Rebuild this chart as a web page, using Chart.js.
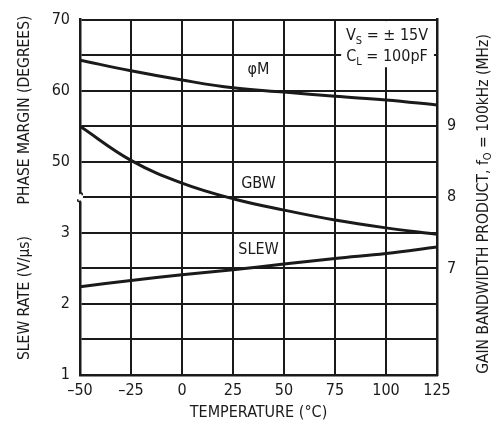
<!DOCTYPE html>
<html>
<head>
<meta charset="utf-8">
<script src="https://cdn.jsdelivr.net/npm/chart.js@4/dist/chart.umd.min.js"></script>
<style>
  html, body { margin: 0; padding: 0; background: #fff; }
  #wrap { width: 501px; height: 425px; position: relative; }
</style>
</head>
<body>
<div id="wrap"><canvas id="main-chart"></canvas></div>
<script>
// temperature (°C)
const temperature = [-50, -25, 0, 25, 50, 75, 100, 125];
// phase margin (degrees), left upper scale
const phase_margin = [64.3, 62.8, 61.5, 60.4, 59.8, 59.2, 58.7, 58.0];
// gain bandwidth product (MHz), right scale
const gbw = [9.0, 8.52, 8.2, 7.98, 7.82, 7.68, 7.57, 7.48];
// slew rate (V/us), left lower scale
const slew_rate = [2.24, 2.33, 2.41, 2.48, 2.56, 2.64, 2.71, 2.80];

// left axis labels: phase margin on top half, slew rate on bottom half
const left_tick_labels = { 70: "70", 60: "60", 50: "50", 40: "3", 30: "2", 20: "1" };
const right_tick_labels = { 9: "9", 8: "8", 7: "7" };

const FONT = "'Liberation Sans Narrow', 'DejaVu Sans Condensed', 'Liberation Sans', sans-serif";
const INK = "#1a1a1a";

const to_points = (ys) => temperature.map((t, i) => ({ x: t, y: ys[i] }));

const extras = {
    id: "extras",
    afterDraw(chart) {
        const c = chart.ctx;
        const x = chart.scales.x;
        const y = chart.scales.yPM;
        const area = chart.chartArea;
        c.save();

        // break mark on the left axis
        const yb = y.getPixelForValue(45);
        c.fillStyle = "#fff";
        c.fillRect(area.left - 4, yb - 4, 7, 8);
        c.strokeStyle = INK;
        c.lineWidth = 1.6;
        c.beginPath();
        c.moveTo(area.left, yb - 10);
        c.lineTo(area.left, yb - 4);
        c.quadraticCurveTo(area.left + 3, yb - 5, area.left + 2, yb - 2);
        c.moveTo(area.left - 2, yb + 2);
        c.quadraticCurveTo(area.left - 3, yb + 5, area.left, yb + 4);
        c.lineTo(area.left, yb + 10);
        c.stroke();

        // conditions box
        c.fillStyle = "#fff";
        c.fillRect(x.getPixelForValue(78), area.top + 1.5, x.getPixelForValue(123.5) - x.getPixelForValue(78), y.getPixelForValue(63.3) - area.top - 1.5);
        c.fillStyle = INK;
        c.textBaseline = "alphabetic";
        const bx = x.getPixelForValue(100.5);
        const draw_sub = (main, sub, rest, cx, by) => {
            c.font = "16px " + FONT;
            const w1 = c.measureText(main).width;
            c.font = "11px " + FONT;
            const w2 = c.measureText(sub).width;
            c.font = "16px " + FONT;
            const w3 = c.measureText(rest).width;
            let sx = cx - (w1 + w2 + w3) / 2;
            c.textAlign = "left";
            c.fillText(main, sx, by);
            c.font = "11px " + FONT;
            c.fillText(sub, sx + w1, by + 4);
            c.font = "16px " + FONT;
            c.fillText(rest, sx + w1 + w2, by);
        };
        draw_sub("V", "S", " = \u00b1 15V", bx, area.top + 20);
        draw_sub("C", "L", " = 100pF", bx, area.top + 41);

        // curve labels
        c.font = "16px " + FONT;
        c.textAlign = "center";
        c.textBaseline = "middle";
        const lx = x.getPixelForValue(37.5);
        c.fillText("\u03c6M", lx, 70);
        c.fillText("GBW", lx, 184);
        c.fillText("SLEW", lx, 250);

        // left axis titles
        c.font = "15.5px " + FONT;
        c.save();
        c.translate(25, 110);
        c.rotate(-Math.PI / 2);
        c.fillText("PHASE MARGIN (DEGREES)", 0, 0);
        c.restore();
        c.save();
        c.translate(25, 298);
        c.rotate(-Math.PI / 2);
        c.fillText("SLEW RATE (V/\u03bcs)", 0, 0);
        c.restore();

        // right axis title
        c.save();
        c.translate(484, 204);
        c.rotate(-Math.PI / 2);
        const parts = [["GAIN BANDWIDTH PRODUCT, f", 15.5, 0], ["O", 11, 4], [" = 100kHz (MHz)", 15.5, 0]];
        let total = 0;
        parts.forEach(([t, s]) => { c.font = s + "px " + FONT; total += c.measureText(t).width; });
        let px = -total / 2;
        c.textAlign = "left";
        parts.forEach(([t, s, dy]) => {
            c.font = s + "px " + FONT;
            c.fillText(t, px, dy);
            px += c.measureText(t).width;
        });
        c.restore();

        // x axis title
        c.font = "16px " + FONT;
        c.textAlign = "center";
        c.fillText("TEMPERATURE (\u00b0C)", x.getPixelForValue(37.5), 413);

        c.restore();
    },
};

const line_ds = (label, data, axis) => ({
    label: label,
    data: to_points(data),
    yAxisID: axis,
    borderColor: INK,
    borderWidth: 3,
    pointRadius: 0,
    tension: 0.4,
    fill: false,
});

const ctx = document.getElementById("main-chart").getContext("2d");
const main_chart = new Chart(ctx, {
    type: "line",
    data: {
        datasets: [
            line_ds("Phase margin", phase_margin, "yPM"),
            line_ds("GBW", gbw, "yGBW"),
            line_ds("Slew rate", slew_rate, "ySR"),
        ],
    },
    options: {
        responsive: true,
        maintainAspectRatio: false,
        animation: false,
        layout: { padding: { top: 16, left: 0, right: 0, bottom: 0 } },
        plugins: {
            legend: { display: false },
            tooltip: { enabled: false },
        },
        scales: {
            x: {
                type: "linear",
                min: -50,
                max: 125,
                afterFit: (s) => { s.height = 50; },
                border: { color: INK, width: 2.5 },
                grid: { color: INK, lineWidth: 2, drawTicks: false },
                ticks: {
                    stepSize: 25,
                    padding: 6,
                    color: INK,
                    font: { family: FONT, size: 16 },
                    callback: (v) => (v < 0 ? "\u2013" + Math.abs(v) : String(v)),
                },
            },
            yPM: {
                type: "linear",
                position: "left",
                min: 20,
                max: 70,
                afterFit: (s) => { s.width = 80; },
                border: { color: INK, width: 2.5 },
                grid: { color: INK, lineWidth: 2, drawTicks: false },
                ticks: {
                    stepSize: 5,
                    padding: 10,
                    color: INK,
                    font: { family: FONT, size: 16 },
                    callback: (v) => left_tick_labels[v] || "",
                },
            },
            ySR: {
                type: "linear",
                display: false,
                min: 1,
                max: 6,
            },
            yGBW: {
                type: "linear",
                position: "right",
                min: 5.5,
                max: 10.5,
                afterFit: (s) => { s.width = 64; },
                border: { color: INK, width: 2.5 },
                grid: { display: false, drawTicks: false },
                ticks: {
                    stepSize: 0.5,
                    padding: 10,
                    color: INK,
                    font: { family: FONT, size: 16 },
                    callback: (v) => right_tick_labels[v] || "",
                },
            },
        },
    },
    plugins: [extras],
});
</script>
</body>
</html>
